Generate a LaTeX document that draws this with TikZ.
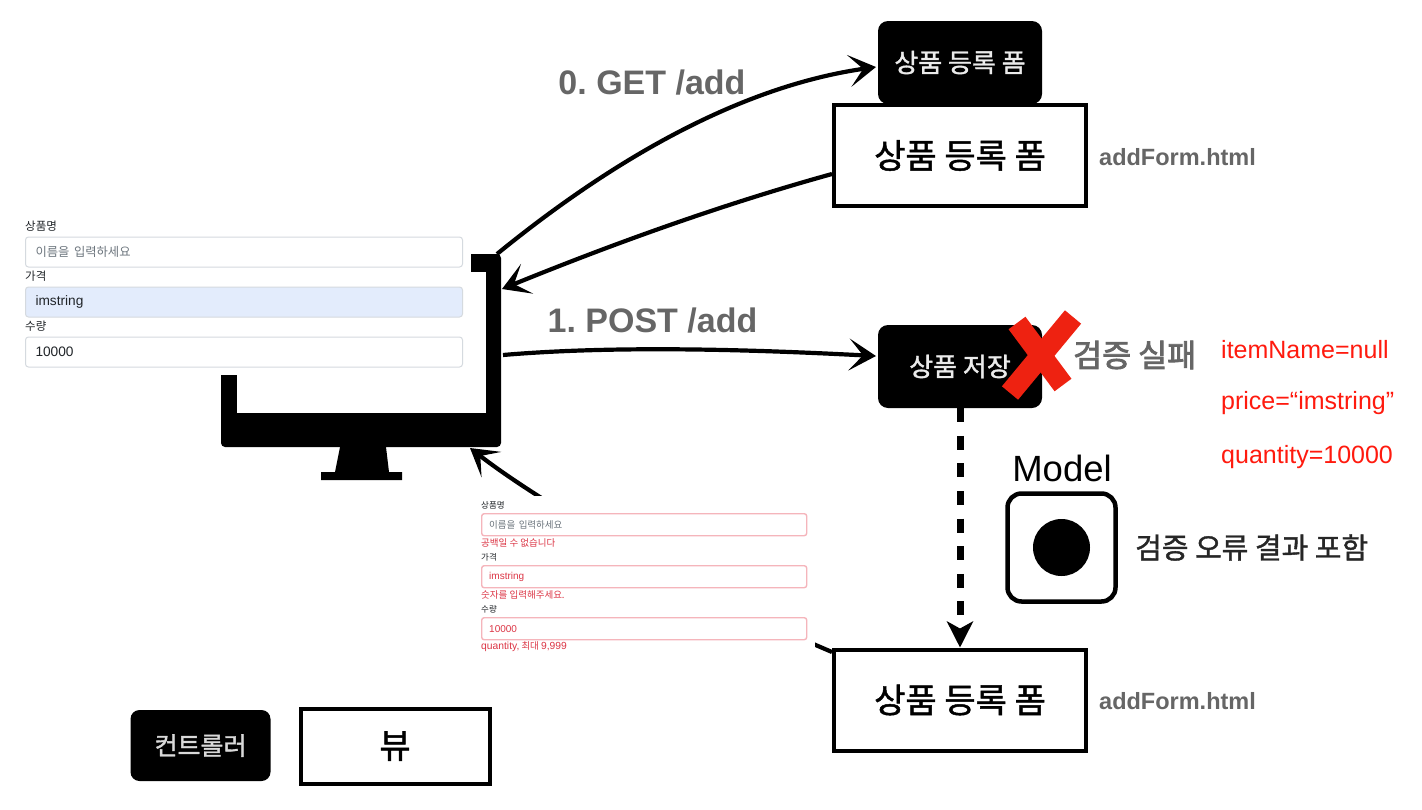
\documentclass[tikz,border=0pt]{standalone}
\usepackage{fontspec}
\setmainfont{Liberation Sans}
\newfontfamily\kr{Noto Sans CJK KR}
\newfontfamily\krm[FakeBold=1.4]{Noto Sans CJK KR}
\newfontfamily\krb[FakeBold=2.6]{Noto Sans CJK KR}
\usetikzlibrary{arrows.meta}
\definecolor{gtxt}{HTML}{666666}
\definecolor{errred}{HTML}{DC3545}
\definecolor{errbord}{HTML}{F5B5BB}
\definecolor{inbord}{HTML}{D5DADF}
\definecolor{autofill}{HTML}{E3ECFC}
\definecolor{holder}{HTML}{6C757D}
\definecolor{lab}{HTML}{212529}
\definecolor{xred}{HTML}{EE2211}
\definecolor{redtxt}{HTML}{FF1A0E}
\tikzset{
 x=1pt,y=-1pt,
 blackbox/.style={fill=black,rounded corners=10pt,minimum width=164pt,minimum height=83pt,text=white!92!black,inner sep=0pt,font=\krm\fontsize{26}{26}\selectfont},
 whitebox/.style={draw=black,line width=4pt,fill=white,minimum width=252pt,minimum height=101pt,inner sep=0pt,font=\krm\fontsize{34}{34}\selectfont},
 filelabel/.style={anchor=west,inner sep=0pt,text=gtxt,font=\bfseries\fontsize{23.5}{23.5}\selectfont},
 edgelabel/.style={anchor=center,inner sep=0pt,text=gtxt,font=\bfseries\fontsize{34}{34}\selectfont},
 hand/.style={line width=4.2pt,draw=black,-{Stealth[length=27pt,width=32pt,inset=14pt]}},
 panel/.style={fill=white,draw=none,inner sep=0pt,anchor=north west},
 inbig/.style={draw=inbord,line width=1pt,fill=white,rounded corners=3pt,minimum width=437pt,minimum height=30pt,anchor=north west,inner sep=0pt,inner xsep=10pt,align=left,text width=417pt,font=\fontsize{13.7}{14}\selectfont,text=lab},
 labbig/.style={anchor=west,inner sep=0pt,text=lab,font=\kr\fontsize{11.5}{12}\selectfont},
 insm/.style={draw=errbord,line width=1.4pt,fill=white,rounded corners=2.5pt,minimum width=325pt,minimum height=22pt,anchor=north west,inner sep=0pt,inner xsep=7.5pt,text width=310pt,align=left,font=\fontsize{10}{10}\selectfont,text=errred},
 labsm/.style={anchor=west,inner sep=0pt,text=lab,font=\kr\fontsize{8.5}{9}\selectfont},
 errsm/.style={anchor=west,inner sep=0pt,text=errred,font=\kr\fontsize{9.5}{10}\selectfont},
 redlabel/.style={anchor=west,inner sep=0pt,text=redtxt,font=\fontsize{25}{25}\selectfont},
}
\begin{document}
\frenchspacing
\begin{tikzpicture}
\useasboundingbox (0,0) rectangle (1422,809);
\fill[white] (0,0) rectangle (1422,809);

% monitor
\node[fill=black,rounded corners=4pt,minimum width=280pt,minimum height=193pt,inner sep=0pt] (mon) at (361,350.5) {};
\node[fill=white,minimum width=249pt,minimum height=141pt,inner sep=0pt] (screen) at (361.5,342.5) {};
\fill[black] (340,447) -- (386,447) -- (389,472) -- (402,472) -- (402,480) -- (321,480) -- (321,472) -- (335,472) -- cycle;

% boxes
\node[blackbox] (formA) at (960,62.5) {상품 등록 폼};
\node[whitebox] (pageA) at (960,155.5) {\raisebox{-1pt}{상품 등록 폼}};
\node[filelabel] (fileA) at (1099,157) {addForm.html};
\node[blackbox] (save) at (960,366.5) {상품 저장};
\node[whitebox] (pageB) at (960,700) {\raisebox{-1pt}{상품 등록 폼}};
\node[filelabel] (fileB) at (1099,701) {addForm.html};

% connector ends
\coordinate (getS) at (497,254);
\coordinate (getE) at (876,67);
\coordinate (backS) at (832,174);
\coordinate (backE) at (502,289);
\coordinate (postS) at (503,355);
\coordinate (postE) at (876,356);
\coordinate (retS) at (832,652);
\coordinate (retE) at (470,448);

\draw[hand] (getS) .. controls (600,170) and (730,88) .. (getE);
\draw[hand] (backS) .. controls (720,205) and (610,245) .. (backE);
\draw[hand] (postS) .. controls (620,345) and (760,350) .. (postE);
\draw[hand] (retS) .. controls (720,605) and (550,510) .. (retE);
\draw[line width=7pt,dash pattern=on 14pt off 13.6pt,-{Stealth[length=26pt,width=26pt,inset=7pt]}] (save.south) -- (pageB.north);

\node[edgelabel] (lblGet) at (652,83) {0. GET /add};
\node[edgelabel] (lblPost) at (652.5,321) {1. POST /add};

% red cross
\draw[xred,line width=21pt] (1017,323) -- (1063,385);
\draw[xred,line width=21pt] (1073,317) -- (1010,393);
\node[anchor=west,inner sep=0pt,text=gtxt,font=\krb\fontsize{31.5}{31.5}\selectfont] (fail) at (1073,355) {검증 실패};

\node[redlabel] (r1) at (1221,350) {itemName=null};
\node[redlabel] (r2) at (1221,403) {price=“imstring”};
\node[redlabel] (r3) at (1221,457) {quantity=10000};

% model
\node[inner sep=0pt,font=\fontsize{36.5}{36.5}\selectfont] (modelT) at (1062,468) {Model};
\node[draw=black,line width=4.5pt,rounded corners=14pt,minimum width=108pt,minimum height=108pt,fill=white] (model) at (1061.5,547.5) {};
\node[circle,fill=black,minimum size=57pt,inner sep=0pt] (dot) at (model.center) {};
\node[anchor=west,inner sep=0pt,font=\krm\fontsize{29}{29}\selectfont,text=black!85] (modelN) at (1135,547.5) {검증 오류 결과 포함};

% first form
\node[panel,minimum width=471pt,minimum height=170pt] (formP) at (0,205) {};
\node[labbig] (l1) at (25,226.5) {상품명};
\node[inbig,text=holder] (i1) at (25,236.5) {\kr\fontsize{12.3}{13}\selectfont 이름을 입력하세요};
\node[labbig] (l2) at (25,276.5) {가격};
\node[inbig,fill=autofill] (i2) at (25,286.5) {imstring};
\node[labbig] (l3) at (25,326.5) {수량};
\node[inbig] (i3) at (25,336.5) {10000};

% second form
\node[panel,minimum width=345pt,minimum height=159pt] (errP) at (470,496) {};
\node[labsm] (s1) at (481,505) {상품명};
\node[insm,text=holder] (j1) at (481,513) {\kr\fontsize{9.5}{10}\selectfont 이름을 입력하세요};
\node[errsm] (e1) at (481,543) {공백일 수 없습니다};
\node[labsm] (s2) at (481,557) {가격};
\node[insm] (j2) at (481,565) {imstring};
\node[errsm] (e2) at (481,595) {숫자를 입력해주세요.};
\node[labsm] (s3) at (481,609) {수량};
\node[insm] (j3) at (481,617) {10000};
\node[errsm] (e3) at (481,647) {{\fontspec{Liberation Sans}\fontsize{10.3}{10}\selectfont quantity,} 최대 {\fontspec{Liberation Sans}\fontsize{10.3}{10}\selectfont 9,999}};

% legend
\node[fill=black,rounded corners=9pt,minimum width=140pt,minimum height=71pt,text=white!85!black,inner sep=0pt,font=\krm\fontsize{25}{25}\selectfont] (ctl) at (200.5,745.5) {컨트롤러};
\node[draw=black,line width=4pt,minimum width=189pt,minimum height=75pt,inner sep=0pt,font=\krm\fontsize{34}{34}\selectfont] (vw) at (395,746) {\raisebox{-1pt}{뷰}};
\end{tikzpicture}
\end{document}
